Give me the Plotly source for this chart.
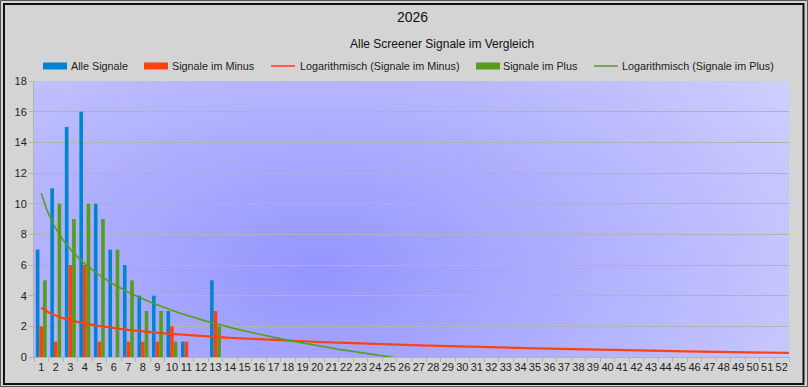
import base64
import numpy as np
import plotly.graph_objects as go

# ---------------- data ----------------
weeks = list(range(1, 14))
alle_signale = [7, 11, 15, 16, 10, 7, 6, 4, 4, 3, 1, 0, 5]
signale_minus = [2, 1, 6, 6, 1, 0, 1, 1, 1, 2, 1, 0, 3]
signale_plus = [5, 10, 9, 10, 9, 7, 5, 3, 3, 1, 0, 0, 2]
week_ticks = list(range(1, 53))

title_text = "2026"
subtitle_text = "Alle Screener Signale im Vergleich"
names = ["Alle Signale", "Signale im Minus", "Logarithmisch (Signale im Minus)",
         "Signale im Plus", "Logarithmisch (Signale im Plus)"]

# ---------------- styling ----------------
W, H = 808, 387
ML, MR, MT, MB = 34, 19, 81, 30
PW, PH = W - ML - MR, H - MT - MB
BLUE, RED, GREEN = "#0084d1", "#ff420e", "#579d1c"
FONT = "Liberation Sans, Arial, sans-serif"


def PX(px):
    return (px - ML) / PW


def PY(py):
    return (H - MB - py) / PH


# logarithmic trendlines (least squares on ln(x)), as the spreadsheet does
lx = np.log(np.array(weeks, dtype=float))
a_m, b_m = np.polyfit(lx, np.array(signale_minus, dtype=float), 1)
a_p, b_p = np.polyfit(lx, np.array(signale_plus, dtype=float), 1)
xt = np.linspace(1, 52.5, 600)
trend_minus = a_m * np.log(xt) + b_m
trend_plus = a_p * np.log(xt) + b_p

fig = go.Figure()
fig.add_trace(go.Bar(x=weeks, y=alle_signale, name=names[0], marker_color=BLUE,
                     marker_line_width=0))
fig.add_trace(go.Bar(x=weeks, y=signale_minus, name=names[1], marker_color=RED,
                     marker_line_width=0))
fig.add_trace(go.Scatter(x=xt, y=trend_minus, mode="lines", name=names[2],
                         line=dict(color=RED, width=2.2)))
fig.add_trace(go.Bar(x=weeks, y=signale_plus, name=names[3], marker_color=GREEN,
                     marker_line_width=0))
fig.add_trace(go.Scatter(x=xt, y=trend_plus, mode="lines", name=names[4],
                         line=dict(color=GREEN, width=1.6)))

# radial gradient background of the plot area
cx, cy = 285, 190
svg = f'''<svg xmlns="http://www.w3.org/2000/svg" width="{PW}" height="{PH}" viewBox="0 0 {PW} {PH}" preserveAspectRatio="none">
<defs><radialGradient id="g" gradientUnits="userSpaceOnUse" cx="{cx}" cy="{cy}" r="600"
gradientTransform="translate({cx},{cy}) scale(1,0.6) translate({-cx},{-cy})">
<stop offset="0" stop-color="#9595ff"/><stop offset="1" stop-color="#d2d2ff"/></radialGradient></defs>
<rect x="0" y="0" width="{PW}" height="{PH}" fill="url(#g)"/></svg>'''
src = "data:image/svg+xml;base64," + base64.b64encode(svg.encode()).decode()

# manual legend (wide swatches like the original)
legend_items = [  # (kind, color, swatch_left, text_left)
    ("bar", BLUE, 43, 71),
    ("bar", RED, 144, 172),
    ("line", RED, 271, 300),
    ("bar", GREEN, 476, 503),
    ("line", GREEN, 594, 622),
]
LEG_Y = 66
shapes = []
annotations = [
    dict(text=title_text, xref="paper", yref="paper", x=PX(412), y=PY(17),
         showarrow=False, font=dict(size=14, color="#111"), xanchor="center", yanchor="middle"),
    dict(text=subtitle_text, xref="paper", yref="paper", x=PX(442), y=PY(44),
         showarrow=False, font=dict(size=12, color="#111"), xanchor="center", yanchor="middle"),
]
for (kind, col, sl, tl), nm in zip(legend_items, names):
    if kind == "bar":
        shapes.append(dict(type="rect", xref="paper", yref="paper", x0=PX(sl), x1=PX(sl + 24),
                           y0=PY(LEG_Y + 3.5), y1=PY(LEG_Y - 3.5), fillcolor=col, line_width=0))
    else:
        shapes.append(dict(type="line", xref="paper", yref="paper", x0=PX(sl), x1=PX(sl + 24),
                           y0=PY(LEG_Y), y1=PY(LEG_Y), line=dict(color=col, width=1.5)))
    annotations.append(dict(text=nm, xref="paper", yref="paper", x=PX(tl - 2), y=PY(LEG_Y),
                            showarrow=False, xanchor="left", yanchor="middle",
                            font=dict(size=10.8, color="#222")))

shapes += [
    dict(type="rect", xref="paper", yref="paper", x0=PX(0.5), x1=PX(807.5), y0=PY(386.5), y1=PY(0.5),
         line=dict(color="#555", width=1), layer="above"),
    dict(type="rect", xref="paper", yref="paper", x0=PX(4), x1=PX(803.5), y0=PY(384), y1=PY(4),
         line=dict(color="#111", width=2), layer="above"),
]

fig.update_layout(
    width=W, height=H,
    margin=dict(l=ML, r=MR, t=MT, b=MB, pad=0),
    paper_bgcolor="#d4d4d4",
    plot_bgcolor="rgba(0,0,0,0)",
    barmode="group", bargap=0.25, bargroupgap=0,
    font=dict(family=FONT, color="#222", size=11),
    showlegend=False,
    images=[dict(source=src, xref="paper", yref="paper", x=0, y=1, sizex=1, sizey=1,
                 xanchor="left", yanchor="top", sizing="stretch", layer="below")],
    annotations=annotations,
    shapes=shapes,
)

fig.update_xaxes(range=[0.5, 52.5], tickmode="array", tickvals=week_ticks,
                 ticktext=[str(w) for w in week_ticks], ticks="", tickangle=0,
                 showgrid=False, zeroline=False, showline=True, linecolor="#b3b3b3", linewidth=1,
                 tickfont=dict(size=11, color="#222"),
                 minor=dict(tickmode="linear", tick0=0.5, dtick=1, ticks="outside",
                            ticklen=4, tickcolor="#b3b3b3", showgrid=False))
fig.update_yaxes(range=[0, 18], dtick=2, showgrid=True, gridcolor="#b3b3b3", gridwidth=1,
                 zeroline=False, showline=True, linecolor="#b3b3b3", linewidth=1,
                 ticks="outside", ticklen=4, tickcolor="#b3b3b3",
                 tickfont=dict(size=11, color="#222"))

fig.write_html("out.html")
